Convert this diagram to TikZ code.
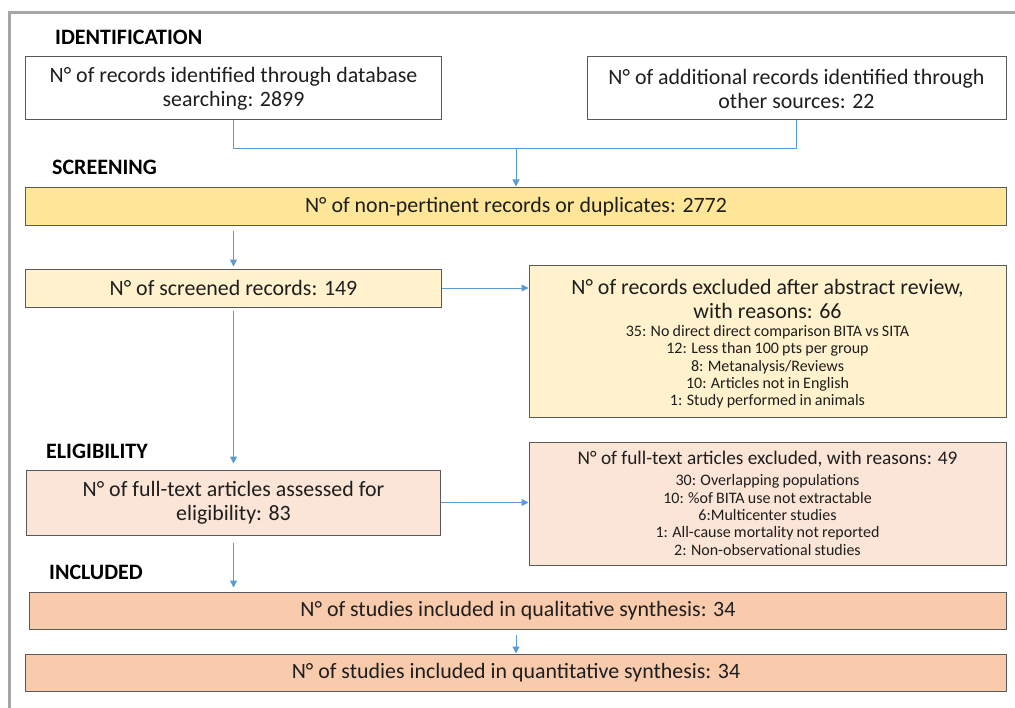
\documentclass[tikz,border=0pt]{standalone}
\usepackage{fontspec}
\setmainfont{Carlito}
\usetikzlibrary{arrows.meta,calc}
\definecolor{bordercol}{HTML}{595959}
\definecolor{arrowcol}{HTML}{5B9BD5}
\definecolor{framecol}{HTML}{A6A6A6}
\definecolor{goldfill}{HTML}{FFE699}
\definecolor{lyellow}{HTML}{FFF2CC}
\definecolor{lpeach}{HTML}{FBE5D6}
\definecolor{peachfill}{HTML}{F8CBAD}
\definecolor{textcol}{HTML}{1E1E1E}
\newcommand\mainfs{\fontsize{21.9bp}{24bp}\selectfont}
\newcommand\hdrfs{\fontsize{22bp}{24bp}\selectfont\bfseries}
\newcommand\subhfs{\fontsize{19.3bp}{22bp}\selectfont}
\newcommand\listfs{\fontsize{16bp}{17.3bp}\selectfont\spaceskip=0.2em plus 0.05em minus 0.02em\relax}
\begin{document}
\begin{tikzpicture}[x=1bp,y=-1bp,
  box/.style={draw=bordercol, line width=1bp, inner sep=0pt, align=center, font=\mainfs, text=textcol},
  txt/.style={inner sep=0pt, align=center, text=textcol},
  hdr/.style={anchor=west, inner sep=0pt, font=\hdrfs, text=black},
  link/.style={draw=arrowcol, line width=1bp},
  arr/.style={link, -{Triangle[width=7bp,length=7bp]}}]
\useasboundingbox (0,0) rectangle (1015,708);
\fill[white] (0,0) rectangle (1015,708);
% frame
\draw[framecol, line width=3bp] (1015,13) -- (9,13) -- (9,708);
% headers
\node[hdr] (hid) at (55,37) {IDENTIFICATION};
\node[hdr] (hsc) at (52,167) {SCREENING};
\node[hdr] (hel) at (46,451) {ELIGIBILITY};
\node[hdr] (hin) at (49,572) {INCLUDED};
% boxes
\node[box, fill=white, minimum width=415bp, minimum height=63bp] (b1) at (233.5,88.5)
  {N° of records identified through database\\searching: 2899};
\node[box, fill=white, minimum width=419bp, minimum height=63bp] (b2) at (796.5,88.5)
  {N° of additional records identified through\\other sources: 22};
\node[box, fill=goldfill, minimum width=980bp, minimum height=37bp] (b3) at (516,206.5)
  {N° of non-pertinent records or duplicates: 2772};
\node[box, fill=lyellow, minimum width=415bp, minimum height=38bp] (b4) at (233.5,288)
  {N° of screened records: 149};
\node[box, fill=lyellow, minimum width=477bp, minimum height=152bp] (b5) at (767.5,341) {};
\node[txt, font=\mainfs] (b5h) at (767.5,299)
  {N° of records excluded after abstract review,\\with reasons: 66};
\node[txt, font=\listfs] (b5l) at (767.5,367)
  {35: No direct direct comparison BITA vs SITA\\12: Less than 100 pts per group\\8: Metanalysis/Reviews\\10: Articles not in English\\1: Study performed in animals};
\node[box, fill=lpeach, minimum width=413bp, minimum height=65bp] (b6) at (233.5,502.5)
  {N° of full-text articles assessed for\\eligibility: 83};
\node[box, fill=lpeach, minimum width=477bp, minimum height=123bp] (b7) at (767.5,503.5) {};
\node[txt, font=\subhfs] (b7h) at (767.5,459)
  {N° of full-text articles excluded, with reasons: 49};
\node[txt, font=\listfs] (b7l) at (767.5,515)
  {30: Overlapping populations\\10: \%of BITA use not extractable\\6:Multicenter studies\\1: All-cause mortality not reported\\2: Non-observational studies};
\node[box, fill=peachfill, minimum width=976bp, minimum height=37bp] (b8) at (518,610.5)
  {N° of studies included in qualitative synthesis: 34};
\node[box, fill=peachfill, minimum width=980bp, minimum height=37bp] (b9) at (516,672.5)
  {N° of studies included in quantitative synthesis: 34};
% connectors
\coordinate (j) at (516,149);
\draw[link] (b1.south) |- (j);
\draw[link] (b2.south) |- (j);
\draw[arr, shorten >=1bp] (j) -- (b3.north);
\draw[arr, shorten >=2bp] ($(b3.south -| b4.north)+(0,5)$) -- (b4.north);
\draw[arr] (b4.east) -- (b4.east -| b5.west);
\draw[arr, shorten >=6bp] ($(b4.south)+(0,3)$) -- (b6.north);
\draw[arr] (b6.east) -- (b6.east -| b7.west);
\draw[arr, shorten >=4bp] ($(b6.south)+(0,7)$) -- (b8.north -| b6.south);
\draw[arr] ($(b9.north |- b8.south)+(0,5)$) -- (b9.north);
\end{tikzpicture}
\end{document}
